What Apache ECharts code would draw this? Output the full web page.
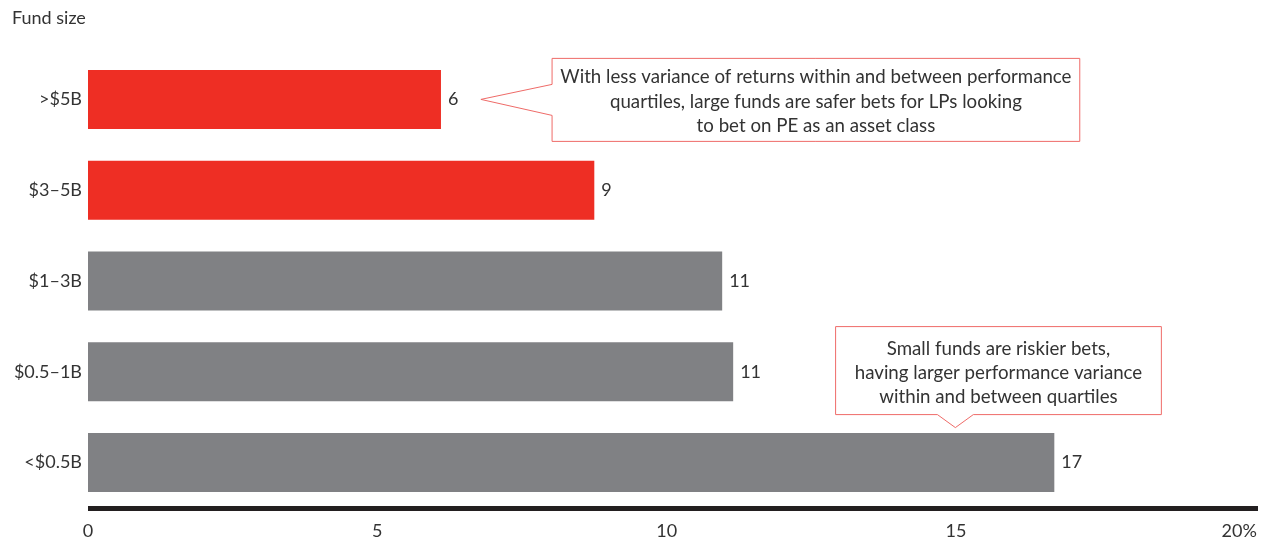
<!DOCTYPE html>
<html>
<head>
<meta charset="utf-8">
<script src="https://cdn.jsdelivr.net/npm/echarts@6/dist/echarts.min.js"></script>
<style>
html,body{margin:0;padding:0;background:#fff;}
#chart{width:1267px;height:540px;}
</style>
</head>
<body>
<div id="chart"></div>
<script>
// ---- data ----
const categories = ['>$5B', '$3\u20135B', '$1\u20133B', '$0.5\u20131B', '<$0.5B'];
const values = [6.1, 8.75, 10.96, 11.15, 16.7];
const highlighted = [true, true, false, false, false];
const xTicks = [0, 5, 10, 15, 20];
const axisTitle = 'Fund size';
const callout1Text = 'With less variance of returns within and between performance\nquartiles, large funds are safer bets for LPs looking\nto bet on PE as an asset class';
const callout2Text = 'Small funds are riskier bets,\nhaving larger performance variance\nwithin and between quartiles';

const RED = '#EE2E24';
const GREY = '#808184';
const TEXT = '#333333';
const FONT = 'Lato';

const chart = echarts.init(document.getElementById('chart'), null, {renderer: 'canvas'});

chart.setOption({
  animation: false,
  backgroundColor: '#fff',
  textStyle: {fontFamily: FONT},
  grid: {left: 88, right: 9, top: 54, bottom: 31, containLabel: false},
  xAxis: {
    type: 'value', min: 0, max: 20.22, interval: 5,
    splitLine: {show: false},
    axisTick: {show: false},
    axisLine: {show: true, lineStyle: {color: '#231f20', width: 5, cap: 'butt'}},
    axisLabel: {
      color: TEXT, fontSize: 18, fontFamily: FONT, margin: 14,
      formatter: function (v) {
        if (xTicks.indexOf(v) < 0) return '';
        return v === 20 ? '{p|20%}' : String(v);
      },
      rich: {p: {fontSize: 18, fontFamily: FONT, color: TEXT, padding: [0, 12, 0, 0]}}
    }
  },
  yAxis: {
    type: 'category', data: categories, inverse: true,
    axisLine: {show: false}, axisTick: {show: false},
    axisLabel: {color: TEXT, fontSize: 18, fontFamily: FONT, margin: 6}
  },
  series: [{
    type: 'bar',
    barWidth: 59,
    data: values.map((v, i) => ({value: v, itemStyle: {color: highlighted[i] ? RED : GREY}})),
    label: {
      show: true, position: 'right', distance: 7,
      color: TEXT, fontSize: 18, fontFamily: FONT,
      formatter: p => String(Math.round(p.value))
    }
  }]
});

// ---- callouts anchored to the data scales ----
function px(v, cat) { return chart.convertToPixel({xAxisIndex: 0, yAxisIndex: 0}, [v, cat]); }

function drawCallouts() {
  const g = [{
    type: 'text', left: 12, top: 9,
    style: {text: axisTitle, fill: TEXT, font: '18px ' + FONT}
  }];
  const CFONT = '18.7px ' + FONT;
  // callout 1: pointer to the left, aimed at >$5B bar label
  const tip1 = px(6.79, categories[0]);
  const l1 = px(8.02, categories[0])[0], r1 = px(17.14, categories[0])[0];
  const cy1 = tip1[1];
  const t1 = cy1 - 41, b1 = cy1 + 42;
  g.push({
    type: 'polygon',
    shape: {points: [[l1, t1], [r1, t1], [r1, b1], [l1, b1], [l1, cy1 + 16], [tip1[0], cy1], [l1, cy1 - 15]]},
    style: {fill: '#fff', stroke: '#EF6B68', lineWidth: 1}
  });
  g.push({
    type: 'text', x: (l1 + r1) / 2, y: (t1 + b1) / 2 + 2,
    style: {text: callout1Text, fill: TEXT, font: CFONT, align: 'center', verticalAlign: 'middle', lineHeight: 24.5}
  });
  // callout 2: pointer down, aimed at <$0.5B bar
  const tip2 = px(14.99, categories[4]);
  const tipY2 = tip2[1] - 35;
  const l2 = px(12.92, categories[4])[0], r2 = px(18.55, categories[4])[0];
  const b2 = tipY2 - 13, t2 = b2 - 88;
  const bw = px(14.68, categories[4])[0], be = px(15.3, categories[4])[0];
  g.push({
    type: 'polygon',
    shape: {points: [[l2, t2], [r2, t2], [r2, b2], [be, b2], [tip2[0], tipY2], [bw, b2], [l2, b2]]},
    style: {fill: '#fff', stroke: '#EF6B68', lineWidth: 1}
  });
  g.push({
    type: 'text', x: (l2 + r2) / 2, y: (t2 + b2) / 2 + 2,
    style: {text: callout2Text, fill: TEXT, font: CFONT, align: 'center', verticalAlign: 'middle', lineHeight: 24}
  });
  chart.setOption({graphic: g});
}
drawCallouts();
</script>
</body>
</html>
